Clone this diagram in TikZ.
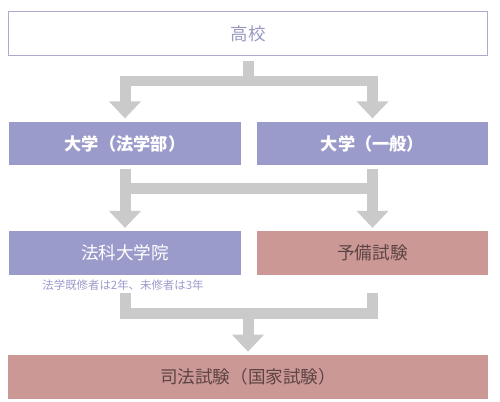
\documentclass[tikz,border=0pt]{standalone}
\usepackage{fontspec}
\setmainfont{Noto Sans CJK JP}
\usepackage{xcolor}
\usetikzlibrary{arrows.meta, positioning, calc}
\definecolor{pathlav}{HTML}{9B9BCB}
\definecolor{pathrose}{HTML}{CC9896}
\definecolor{pathgray}{HTML}{CACACA}
\definecolor{pathedge}{HTML}{ABABCF}
\definecolor{pathtext}{HTML}{5B4444}

\tikzset{
  stage/.style={minimum height=0.87cm, inner sep=0pt, font=\fontsize{10}{12}\selectfont},
  univ/.style={stage, fill=pathlav, text=white, minimum width=4.63cm, font=\fontsize{9.8}{11}\selectfont\bfseries},
  flowline/.style={draw=pathgray, line width=0.22cm, line join=miter},
  flow/.style={flowline, -{Triangle[width=0.62cm, length=0.34cm]}, shorten >=0.06cm}
}

\begin{document}
\begin{tikzpicture}[x=0.02cm, y=-0.02cm]
  \useasboundingbox (0,0) rectangle (500,402);
  % school
  \node[stage, draw=pathedge, line width=0.6pt, text=pathlav!90!gray, minimum width=9.6cm] (school) at (248,33.5) {高校};
  % universities
  \node[univ] (lawdept) at (125,143.5) {大学（法学部）};
  \node[univ] (general) at (372.5,143.5) {大学（一般）};
  % law school and preliminary exam
  \node[stage, fill=pathlav, text=white, minimum width=4.63cm] (lawschool) at (125,253) {法科大学院};
  \node[stage, fill=pathrose, text=pathtext, minimum width=4.63cm] (prelim) at (372.5,253) {予備試験};
  \node[text=pathlav, font=\fontsize{6.5}{8}\selectfont, inner sep=1pt] (years) at (123,285) {法学既修者は2年、未修者は3年};
  % bar exam
  \node[stage, fill=pathrose, text=pathtext, minimum width=9.6cm, minimum height=0.88cm] (barexam) at (248,377) {司法試験（国家試験）};

  % school -> universities
  \coordinate (fork1) at (248,81);
  \draw[flowline] ([yshift=-0.1cm]school.south) -- (fork1);
  \draw[flow] (fork1) -| (lawdept.north);
  \draw[flow] (fork1) -| (general.north);

  % universities -> law school / preliminary exam
  \coordinate (fork2l) at ($(lawdept.south)+(0,23)$);
  \coordinate (fork2r) at ($(general.south)+(0,23)$);
  \draw[flow] ([yshift=-0.06cm]lawdept.south) -- (lawschool.north);
  \draw[flow] ([yshift=-0.06cm]general.south) -- (prelim.north);
  \draw[flowline] ([xshift=-0.06cm]fork2l) -- ([xshift=0.06cm]fork2r);

  % both -> bar exam
  \coordinate (start3l) at ($(lawschool.south)+(0,18)$);
  \coordinate (start3r) at ($(prelim.south)+(0,18)$);
  \coordinate (fork3) at (248,313);
  \draw[flowline] (start3l) |- (fork3 -| start3r) -- (start3r);
  \draw[flow] (fork3) -- (barexam.north);
\end{tikzpicture}
\end{document}
